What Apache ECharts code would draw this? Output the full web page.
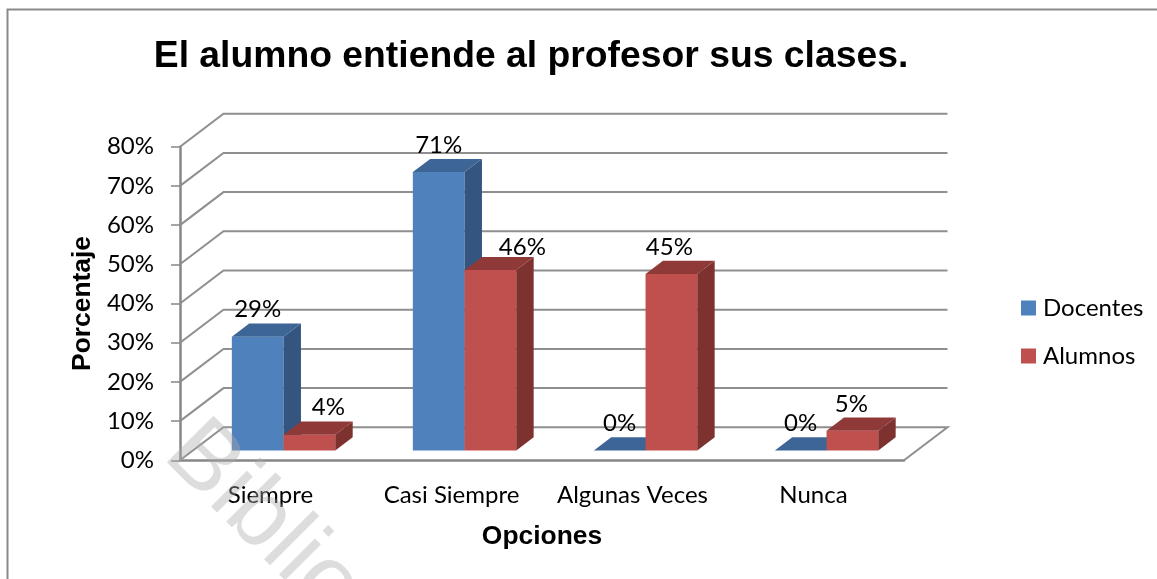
<!DOCTYPE html>
<html>
<head>
<meta charset="utf-8">
<style>html,body{margin:0;padding:0;background:#fff}#chart{width:1157px;height:579px}</style>
<script src="https://cdn.jsdelivr.net/npm/echarts@6/dist/echarts.min.js"></script>
</head>
<body>
<div id="chart"></div>
<script>
const categories = ['Siempre', 'Casi Siempre', 'Algunas Veces', 'Nunca'];
const docentes = [29, 71, 0, 0];
const alumnos = [4, 46, 45, 5];
const yTicks = [0, 10, 20, 30, 40, 50, 60, 70, 80];
const titleText = 'El alumno entiende al profesor sus clases.';
const xTitle = 'Opciones';
const yTitle = 'Porcentaje';
const watermark = 'Biblioteca';

const BODY_FONT = 'Lato';
const HEAD_FONT = 'Liberation Sans';
const WALL_DX = 43.5, WALL_DY = -33;
const DEPTH_FRONT = 0.3, DEPTH_BACK = 0.7;
const GAP_RATIO = 1.5;
const GRID_COLOR = '#8f8f8f';
const noNudge = [[0, 0], [0, 0], [0, 0], [0, 0]];
const alumnosNudge = [[19, 0], [32, 4], [-2, 0], [-1, 0]];

function bar3d(seriesIndex, palette, nudge) {
  return function (params, api) {
    const cat = api.value(0), val = api.value(1);
    const base = api.coord([cat, 0]);
    const top = api.coord([cat, val]);
    const band = api.size([1, 0])[0];
    const w = band / (2 + GAP_RATIO);
    const fx = WALL_DX * DEPTH_FRONT, fy = WALL_DY * DEPTH_FRONT;
    const dx = WALL_DX * (DEPTH_BACK - DEPTH_FRONT), dy = WALL_DY * (DEPTH_BACK - DEPTH_FRONT);
    const x0 = base[0] - w + seriesIndex * w + fx;
    const x1 = x0 + w;
    const yb = base[1] + fy, yt = top[1] + fy;
    const poly = (pts, fill) => ({ type: 'polygon', shape: { points: pts }, style: { fill: fill } });
    return {
      type: 'group',
      children: [
        poly([[x0, yb], [x1, yb], [x1, yt], [x0, yt]], palette[0]),
        poly([[x1, yb], [x1 + dx, yb + dy], [x1 + dx, yt + dy], [x1, yt]], palette[1]),
        poly([[x0, yt], [x1, yt], [x1 + dx, yt + dy], [x0 + dx, yt + dy]], palette[2]),
        {
          type: 'text',
          style: {
            x: (x0 + x1) / 2 + nudge[params.dataIndex][0],
            y: yt - 27 + nudge[params.dataIndex][1],
            text: val + '%',
            fill: '#000', font: '24px ' + BODY_FONT,
            textAlign: 'center', textVerticalAlign: 'middle'
          },
          z2: 50
        }
      ]
    };
  };
}

function wallLine(params, api) {
  const v = api.value(0);
  const band = api.size([1, 0])[0];
  const l = api.coord([0, v]);
  const r = api.coord([categories.length - 1, v]);
  const xL = l[0] - band / 2, xR = r[0] + band / 2, y = l[1];
  const pts = [[xL, y], [xL + WALL_DX, y + WALL_DY], [xR + WALL_DX, y + WALL_DY]];
  if (v === 0) pts.push([xR, y]);
  return {
    type: 'polyline',
    shape: { points: pts },
    style: { stroke: GRID_COLOR, lineWidth: 2, fill: null }
  };
}

const chart = echarts.init(document.getElementById('chart'), null, { renderer: 'canvas' });
chart.setOption({
  backgroundColor: '#fff',
  animation: false,
  title: {
    text: titleText, left: 526, top: 33, textAlign: 'center',
    textStyle: { fontFamily: HEAD_FONT, fontWeight: 'bold', fontSize: 37.3, color: '#000' }
  },
  legend: {
    orient: 'vertical', left: 1016, top: 291,
    data: ['Docentes', 'Alumnos'], icon: 'rect', itemWidth: 15, itemHeight: 15, itemGap: 24,
    textStyle: { fontFamily: BODY_FONT, fontSize: 24, color: '#000', padding: [0, 0, 0, 2] }
  },
  grid: { left: 180, top: 146.7, width: 724, height: 313.6 },
  xAxis: {
    type: 'category', data: categories,
    name: xTitle, nameLocation: 'middle', nameGap: 63,
    nameTextStyle: { fontFamily: HEAD_FONT, fontWeight: 'bold', fontSize: 26.4, color: '#000' },
    axisLine: { lineStyle: { color: '#868686', width: 2.5 } },
    axisTick: { show: false },
    axisLabel: { fontFamily: BODY_FONT, fontSize: 24, color: '#000', margin: 23, interval: 0 },
    splitLine: { show: false }
  },
  yAxis: {
    type: 'value', min: 0, max: 80, interval: 10,
    name: yTitle, nameLocation: 'middle', nameGap: 77, nameRotate: 90,
    nameTextStyle: { fontFamily: HEAD_FONT, fontWeight: 'bold', fontSize: 26.4, color: '#000' },
    axisLine: { show: true, lineStyle: { color: '#868686', width: 2.5 } },
    axisTick: { show: true, length: 9, lineStyle: { color: '#868686', width: 1.5 } },
    axisLabel: { fontFamily: BODY_FONT, fontSize: 24, color: '#000', margin: 26, padding: [2, 0, 0, 0], formatter: '{value}%' },
    splitLine: { show: false }
  },
  series: [
    {
      name: 'Walls', type: 'custom', silent: true, clip: false, z: 1,
      encode: { y: 0 },
      data: yTicks.map(v => [v]),
      renderItem: wallLine
    },
    {
      name: 'Docentes', type: 'custom', clip: false, z: 3,
      itemStyle: { color: '#4F81BD' },
      encode: { x: 0, y: 1 },
      data: docentes.map((v, i) => [i, v]),
      renderItem: bar3d(0, ['#4F81BD', '#34557F', '#3D6595'], noNudge)
    },
    {
      name: 'Alumnos', type: 'custom', clip: false, z: 4,
      itemStyle: { color: '#C0504D' },
      encode: { x: 0, y: 1 },
      data: alumnos.map((v, i) => [i, v]),
      renderItem: bar3d(1, ['#C0504D', '#7D3230', '#8F3A38'], alumnosNudge)
    }
  ],
  graphic: [
    { type: 'polyline', z: 0, silent: true,
      shape: { points: [[7.5, 579], [7.5, 9.5], [1157, 9.5]] },
      style: { stroke: '#8a8a8a', lineWidth: 2, fill: null } },
    { type: 'text', z: 100, silent: true, x: 214, y: 404, rotation: -Math.PI / 4,
      style: { text: watermark, font: '96px "Liberation Sans"', fill: 'rgba(170,170,170,0.4)',
               textAlign: 'left', textVerticalAlign: 'alphabetic' } }
  ]
});
</script>
</body>
</html>
